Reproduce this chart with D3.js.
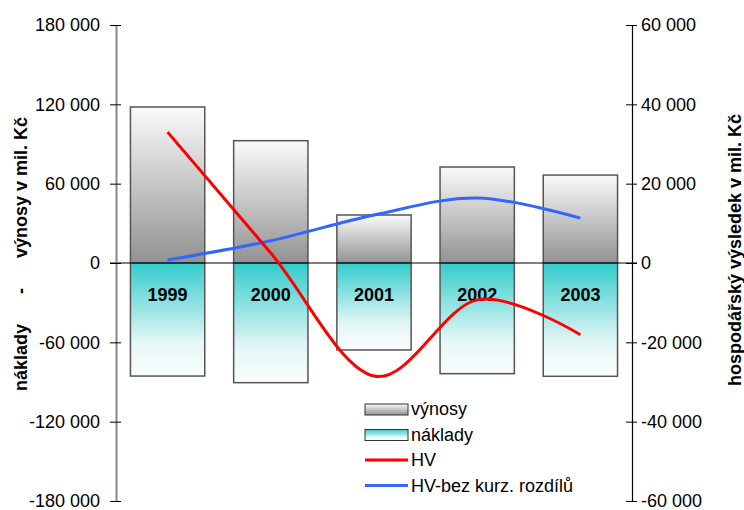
<!DOCTYPE html>
<html>
<head>
<meta charset="utf-8">
<script src="https://cdn.jsdelivr.net/npm/d3@7"></script>
<style>
body { margin: 0; background: #fff; }
text { font-family: "Liberation Sans", Arial, sans-serif; }
</style>
</head>
<body>
<script>
// data
var years = ["1999", "2000", "2001", "2002", "2003"];
var vynosy = [118000, 92500, 36300, 72600, 66500];
var naklady = [-85500, -90500, -65800, -83700, -85700];
var hv = [33000, 2500, -28500, -9300, -18100];
var hvBez = [750, 5600, 12100, 16400, 11300];
var leftTicks = [-180000, -120000, -60000, 0, 60000, 120000, 180000];
var rightTicks = [-60000, -40000, -20000, 0, 20000, 40000, 60000];

var width = 744, height = 510;
var plotLeft = 116, plotRight = 632, plotTop = 25, plotBottom = 501;

var svg = d3.select("body").append("svg")
    .attr("width", width)
    .attr("height", height);

var defs = svg.append("defs");
var gGrey = defs.append("linearGradient").attr("id", "gradGrey")
    .attr("x1", 0).attr("y1", 0).attr("x2", 0).attr("y2", 1);
gGrey.append("stop").attr("offset", "0%").attr("stop-color", "#fafafa");
gGrey.append("stop").attr("offset", "100%").attr("stop-color", "#929292");
var gTeal = defs.append("linearGradient").attr("id", "gradTeal")
    .attr("x1", 0).attr("y1", 0).attr("x2", 0).attr("y2", 1);
gTeal.append("stop").attr("offset", "0%").attr("stop-color", "#33cccc");
gTeal.append("stop").attr("offset", "70%").attr("stop-color", "#e4f6f6");
gTeal.append("stop").attr("offset", "100%").attr("stop-color", "#fafdfd");

var x = d3.scaleBand().domain(years).range([plotLeft, plotRight]).paddingInner(0.28).paddingOuter(0.14);
var y = d3.scaleLinear().domain([-180000, 180000]).range([plotBottom, plotTop]);
var y2 = d3.scaleLinear().domain([-60000, 60000]).range([plotBottom, plotTop]);

var loc = d3.formatLocale({decimal: ",", thousands: " ", grouping: [3], currency: ["", ""], minus: "-"});
var fmt = loc.format(",d");

// bars - výnosy
svg.selectAll(".vyn")
    .data(vynosy)
    .enter().append("rect")
    .attr("class", "vyn")
    .attr("x", function(d, i) { return x(years[i]); })
    .attr("y", function(d) { return y(d); })
    .attr("width", x.bandwidth())
    .attr("height", function(d) { return y(0) - y(d); })
    .attr("fill", "url(#gradGrey)")
    .attr("stroke", "#555")
    .attr("stroke-width", 1.5);

// bars - náklady
svg.selectAll(".nak")
    .data(naklady)
    .enter().append("rect")
    .attr("class", "nak")
    .attr("x", function(d, i) { return x(years[i]); })
    .attr("y", y(0))
    .attr("width", x.bandwidth())
    .attr("height", function(d) { return y(d) - y(0); })
    .attr("fill", "url(#gradTeal)")
    .attr("stroke", "#555")
    .attr("stroke-width", 1.5);

// zero line
svg.append("line")
    .attr("x1", plotLeft - 6).attr("x2", plotRight + 5)
    .attr("y1", y(0)).attr("y2", y(0))
    .attr("stroke", "#000").attr("stroke-width", 1.2);

// year labels
svg.selectAll(".yr")
    .data(years)
    .enter().append("text")
    .attr("class", "yr")
    .attr("x", function(d) { return x(d) + x.bandwidth() / 2; })
    .attr("y", y(0) + 38)
    .attr("text-anchor", "middle")
    .style("font-size", "18px")
    .style("font-weight", "bold")
    .text(function(d) { return d; });

// lines
var cx = function(d, i) { return x(years[i]) + x.bandwidth() / 2; };
var line = d3.line()
    .x(cx)
    .y(function(d) { return y2(d); })
    .curve(d3.curveCatmullRom.alpha(0));

svg.append("path")
    .attr("d", line(hvBez))
    .attr("fill", "none")
    .attr("stroke", "#3366ff")
    .attr("stroke-width", 3);

svg.append("path")
    .attr("d", line(hv))
    .attr("fill", "none")
    .attr("stroke", "#ff0000")
    .attr("stroke-width", 3);

// left axis
var gl = svg.append("g")
    .attr("transform", "translate(" + plotLeft + ",0)")
    .call(d3.axisLeft(y).tickValues(leftTicks).tickSize(0).tickPadding(16).tickFormat(fmt));
gl.select(".domain").attr("stroke", "#888").attr("stroke-width", 2);
gl.selectAll(".tick line").attr("x1", -6).attr("x2", 5).attr("stroke", "#000").attr("stroke-width", 1);
gl.selectAll(".tick text").style("font-size", "18px").attr("fill", "#000")
    .style("font-family", "'Liberation Sans', Arial, sans-serif");

// right axis
var gr = svg.append("g")
    .attr("transform", "translate(" + plotRight + ",0)")
    .call(d3.axisRight(y2).tickValues(rightTicks).tickSize(0).tickPadding(9).tickFormat(fmt));
gr.select(".domain").attr("stroke", "#000").attr("stroke-width", 1.2);
gr.selectAll(".tick line").attr("x1", -6).attr("x2", 5).attr("stroke", "#000").attr("stroke-width", 1);
gr.selectAll(".tick text").style("font-size", "18px").attr("fill", "#000")
    .style("font-family", "'Liberation Sans', Arial, sans-serif");

// axis titles
svg.append("text")
    .attr("transform", "translate(27,254) rotate(-90)")
    .attr("text-anchor", "middle")
    .style("font-size", "18px")
    .style("font-weight", "bold")
    .style("white-space", "pre")
    .text("náklady      -      výnosy v mil. Kč");

svg.append("text")
    .attr("transform", "translate(741,250) rotate(-90)")
    .attr("text-anchor", "middle")
    .style("font-size", "18px")
    .style("font-weight", "bold")
    .text("hospodářský výsledek v mil. Kč");

// legend
var legendItems = [
    {name: "výnosy", type: "rect", fill: "url(#gradGrey)"},
    {name: "náklady", type: "rect", fill: "url(#gradTeal)"},
    {name: "HV", type: "line", color: "#ff0000"},
    {name: "HV-bez kurz. rozdílů", type: "line", color: "#3366ff"}
];
var legend = svg.append("g").attr("transform", "translate(365,409)");
var li = legend.selectAll("g")
    .data(legendItems)
    .enter().append("g")
    .attr("transform", function(d, i) { return "translate(0," + i * 25.5 + ")"; });
li.filter(function(d) { return d.type === "rect"; })
    .append("rect")
    .attr("x", 0).attr("y", -5)
    .attr("width", 43).attr("height", 11)
    .attr("fill", function(d) { return d.fill; })
    .attr("stroke", "#333").attr("stroke-width", 1);
li.filter(function(d) { return d.type === "line"; })
    .append("line")
    .attr("x1", 0).attr("x2", 43)
    .attr("stroke", function(d) { return d.color; })
    .attr("stroke-width", 3);
li.append("text")
    .attr("x", 46)
    .attr("dy", "0.35em")
    .style("font-size", "18px")
    .text(function(d) { return d.name; });
</script>
</body>
</html>
